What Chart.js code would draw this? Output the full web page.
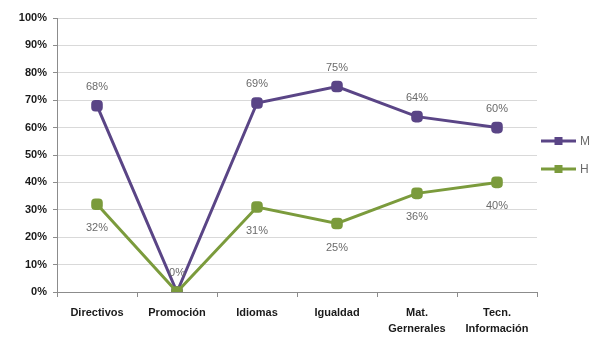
<!DOCTYPE html>
<html><head><meta charset="utf-8">
<script src="https://cdn.jsdelivr.net/npm/chart.js@4/dist/chart.umd.min.js"></script>
<style>html,body{margin:0;padding:0;background:#fff}#wrap{width:595px;height:338px}</style>
</head><body><div id="wrap"><canvas id="c" width="595" height="338"></canvas></div>
<script>
const categories = ["Directivos", "Promoción", "Idiomas", "Igualdad", ["Mat.", "Gernerales"], ["Tecn.", "Información"]];
const seriesM = [68, 0, 69, 75, 64, 60];
const seriesH = [32, 0, 31, 25, 36, 40];
const yTicks = [0, 10, 20, 30, 40, 50, 60, 70, 80, 90, 100];

const purple = '#5a4586';
const green = '#7b9b3c';

const labelPlugin = {
  id: 'labels',
  afterDatasetsDraw(chart) {
    const ctx = chart.ctx;
    ctx.save();
    ctx.font = '11px "Liberation Sans", Arial, sans-serif';
    ctx.fillStyle = '#6b6b6b';
    ctx.textAlign = 'center';
    ctx.textBaseline = 'middle';
    chart.data.datasets.forEach((ds, di) => {
      const meta = chart.getDatasetMeta(di);
      meta.data.forEach((pt, i) => {
        const off = ds.labelPos === 'above' ? -19 : 24;
        const y = pt.y + off;
        if (y > chart.chartArea.bottom) return;
        ctx.fillText(ds.data[i] + '%', pt.x, y);
      });
    });
    ctx.restore();
  }
};

const legendPlugin = {
  id: 'customLegend',
  afterDraw(chart) {
    const ctx = chart.ctx;
    const items = chart.data.datasets;
    items.forEach((ds, i) => {
      const y = 141 + i * 28;
      const x0 = 541, x1 = 576;
      ctx.save();
      ctx.strokeStyle = ds.borderColor;
      ctx.lineWidth = 3;
      ctx.beginPath(); ctx.moveTo(x0, y); ctx.lineTo(x1, y); ctx.stroke();
      ctx.fillStyle = ds.backgroundColor;
      ctx.fillRect((x0 + x1) / 2 - 4, y - 4, 8, 8);
      ctx.fillStyle = '#6b6b6b';
      ctx.font = '12px "Liberation Sans", Arial, sans-serif';
      ctx.textBaseline = 'middle';
      ctx.fillText(ds.label, x1 + 4, y + 1);
      ctx.restore();
    });
  }
};

new Chart(document.getElementById('c'), {
  type: 'line',
  data: {
    labels: categories,
    datasets: [
      { label: 'M', data: seriesM, borderColor: purple, backgroundColor: purple, borderWidth: 3, order: 1,
        pointStyle: 'rectRounded', pointRadius: 5, pointHoverRadius: 5, labelPos: 'above', tension: 0 },
      { label: 'H', data: seriesH, borderColor: green, backgroundColor: green, borderWidth: 3, order: 0,
        pointStyle: 'rectRounded', pointRadius: 5, pointHoverRadius: 5, labelPos: 'below', tension: 0 }
    ]
  },
  options: {
    responsive: false,
    animation: false,
    events: [],
    layout: { padding: { top: 18, right: 58, left: 0, bottom: 0 } },
    plugins: { legend: { display: false }, tooltip: { enabled: false } },
    scales: {
      x: {
        offset: true,
        grid: { offset: true, drawOnChartArea: false, drawTicks: true, tickLength: 5, color: '#8c8c8c' },
        border: { color: '#8c8c8c', width: 1 },
        ticks: { color: '#1a1a1a', font: { family: '"Liberation Sans", Arial, sans-serif', size: 11, weight: 'bold', lineHeight: 1.45 }, maxRotation: 0, autoSkip: false, padding: 8 },
        afterFit(s) { s.height = 46; }
      },
      y: {
        min: 0, max: 100,
        afterBuildTicks(s) { s.ticks = yTicks.map(v => ({ value: v })); },
        grid: { color: '#d9d9d9', drawTicks: true, tickLength: 4, tickColor: '#8c8c8c' },
        border: { color: '#8c8c8c', width: 1 },
        ticks: { color: '#1a1a1a', font: { family: '"Liberation Sans", Arial, sans-serif', size: 11, weight: 'bold' }, padding: 6, callback: v => v + '%' },
        afterFit(s) { s.width = 57; }
      }
    }
  },
  plugins: [labelPlugin, legendPlugin]
});
</script>
</body></html>
